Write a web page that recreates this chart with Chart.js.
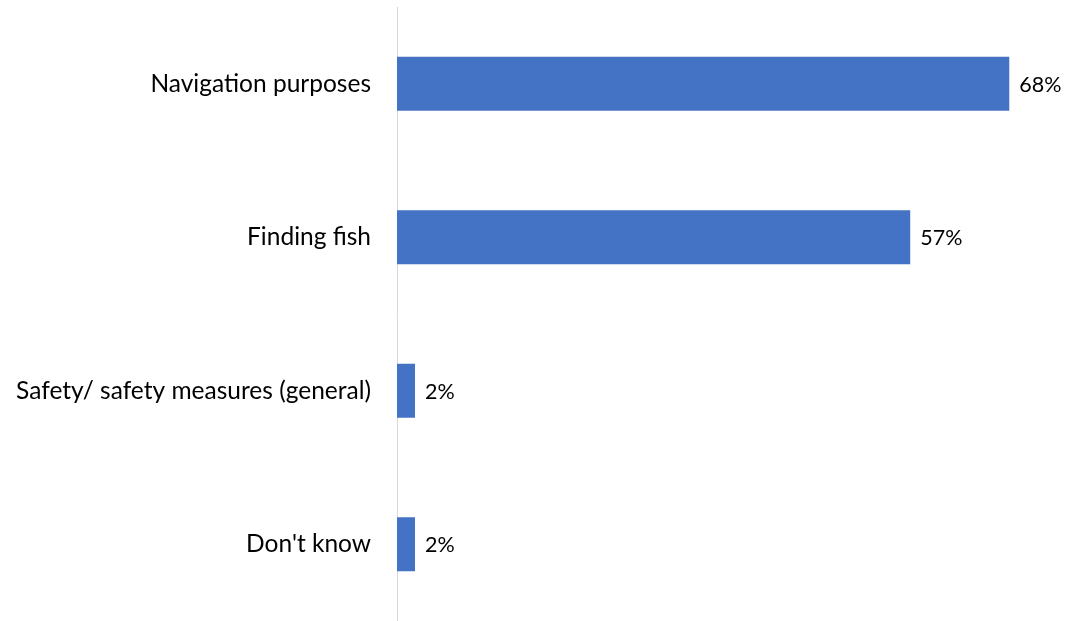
<!DOCTYPE html>
<html>
<head>
<meta charset="utf-8">
<script src="https://cdn.jsdelivr.net/npm/chart.js@4"></script>
<style>
  html, body { margin: 0; padding: 0; background: #fff; }
  #wrap { width: 1066px; height: 621px; }
</style>
</head>
<body>
<div id="wrap"><canvas id="chart" width="1066" height="621"></canvas></div>
<script>
const categories = ['Navigation purposes', 'Finding fish', 'Safety/ safety measures (general)', "Don't know"];
const values = [68, 57, 2, 2];

// draw "68%" style labels just past the end of each bar
const valueLabels = {
  id: 'valueLabels',
  afterDatasetsDraw(chart) {
    const ctx = chart.ctx;
    const meta = chart.getDatasetMeta(0);
    ctx.save();
    ctx.font = '21.5px Lato, "Liberation Sans", sans-serif';
    ctx.fillStyle = '#000';
    ctx.textBaseline = 'middle';
    ctx.textAlign = 'left';
    meta.data.forEach((bar, i) => {
      ctx.fillText(values[i] + '%', bar.x + 10, bar.y + 1);
    });
    ctx.restore();
  }
};

new Chart(document.getElementById('chart').getContext('2d'), {
  type: 'bar',
  data: {
    labels: categories,
    datasets: [{
      data: values,
      backgroundColor: '#4472c4',
      categoryPercentage: 1,
      barPercentage: 0.352
    }]
  },
  options: {
    indexAxis: 'y',
    responsive: false,
    animation: false,
    layout: { padding: { top: 7, right: 0, bottom: 0, left: 0 } },
    plugins: {
      legend: { display: false },
      tooltip: { enabled: false }
    },
    scales: {
      x: {
        display: false,
        min: 0,
        max: 74.3
      },
      y: {
        afterFit(scale) {
          scale.width = 397;
          scale.paddingTop = 0;
          scale.paddingBottom = 0;
        },
        grid: { display: false, drawTicks: false },
        border: { display: true, color: '#d9d9d9', width: 1 },
        ticks: {
          padding: 26,
          color: '#000',
          font: { family: 'Lato, "Liberation Sans", sans-serif', size: 24.5 }
        }
      }
    }
  },
  plugins: [valueLabels]
});
</script>
</body>
</html>
